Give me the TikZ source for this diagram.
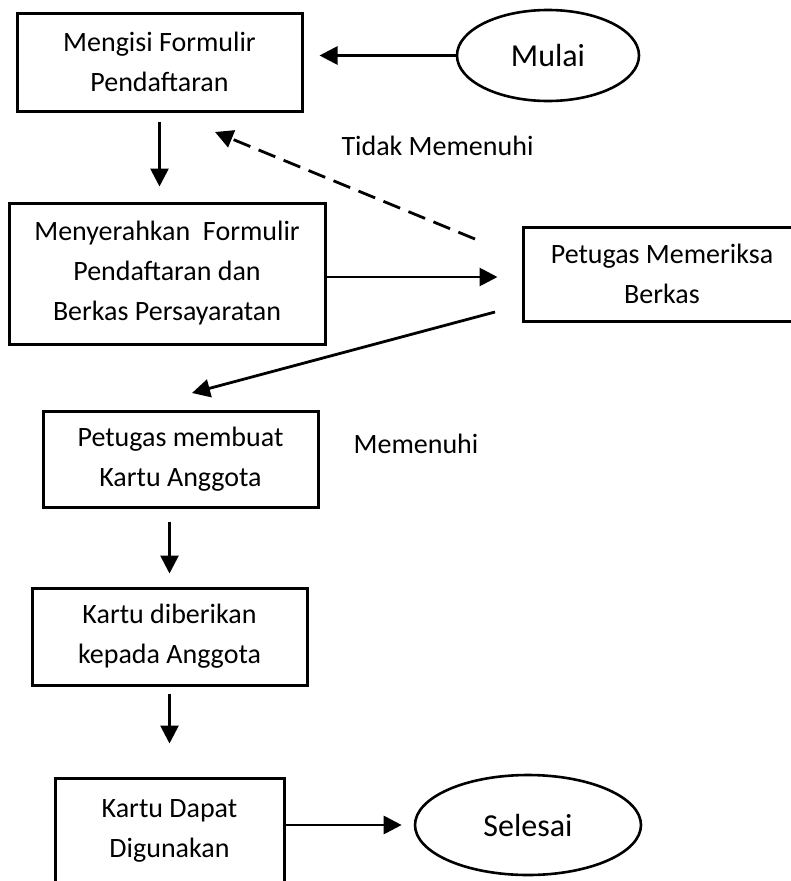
\documentclass[tikz,border=0pt]{standalone}
\usepackage{fontspec}
\setmainfont{Carlito}
\usetikzlibrary{arrows.meta,shapes.geometric}

\begin{document}
\begin{tikzpicture}
[x=1pt,y=-1pt,
  boxdecorate/.style={shape=rectangle,draw,line width=3pt,align=center,inner sep=0pt,
    font=\fontsize{28}{40}\selectfont},%
  ovaldecorate/.style={shape=ellipse,draw,line width=2.6pt,inner sep=0pt,
    font=\fontsize{32}{38}\selectfont},%
  labeldecorate/.style={anchor=base,font=\fontsize{28}{34}\selectfont},%
  linedecorate/.style={-{Triangle[length=18pt,width=18pt]},line width=2.8pt},%
  dashdecorate/.style={linedecorate,dash pattern=on 18pt off 9pt}]
\useasboundingbox (0,0) rectangle (790,881);
%% boxes
\foreach \nodename/\x/\y/\w/\h/\txt in {
  isi/159.5/62/285/98/{Mengisi Formulir\\Pendaftaran},
  serah/167/273.5/316/141/{Menyerahkan\ \ Formulir\\Pendaftaran dan\\Berkas Persayaratan},
  periksa/662/274/278/94/{Petugas Memeriksa\\Berkas},
  buat/180.5/459/275/96/{Petugas membuat\\Kartu Anggota},
  beri/169.5/636.5/275/97/{Kartu diberikan\\kepada Anggota},
  guna/169.5/831/229/106/{Kartu Dapat\\Digunakan}} {
  \node (\nodename) at (\x,\y) [boxdecorate,minimum width=\w pt,minimum height=\h pt] {\txt};
}
%% start and end
\node (mulai) at (548,55.5) [ovaldecorate,minimum width=182pt,minimum height=91pt] {Mulai};
\node (selesai) at (528,825) [ovaldecorate,minimum width=226pt,minimum height=100pt] {Selesai};
%% labels
\node (tidak) at (437.5,155) [labeldecorate] {Tidak Memenuhi};
\node (penuh) at (416,453) [labeldecorate] {Memenuhi};
%% free ends of the slanted lines
\coordinate (balik) at (475,239);
\coordinate (balikujung) at (215,132);
\coordinate (lolos) at (495,312);
\coordinate (lolosujung) at (192,393);
%% arrows
\draw[linedecorate,shorten >=16pt] (mulai.west) -- (mulai.west -| isi.east);
\draw[linedecorate,shorten <=9pt,shorten >=15pt] (isi.south) -- (isi.south |- serah.north);
\draw[linedecorate,shorten >=24pt] ([yshift=-3.5pt]serah.east) -- ([yshift=-3.5pt]serah.east -| periksa.west);
\draw[dashdecorate] (balik) -- (balikujung);
\draw[linedecorate] (lolos) -- (lolosujung);
\draw[linedecorate,shorten <=13pt,shorten >=13pt] (beri.north |- buat.south) -- (beri.north);
\draw[linedecorate,shorten <=7pt,shorten >=33pt] (beri.south) -- (guna.north);
\draw[linedecorate,shorten >=12pt] (selesai.west -| guna.east) -- (selesai.west);
\end{tikzpicture}
\end{document}
